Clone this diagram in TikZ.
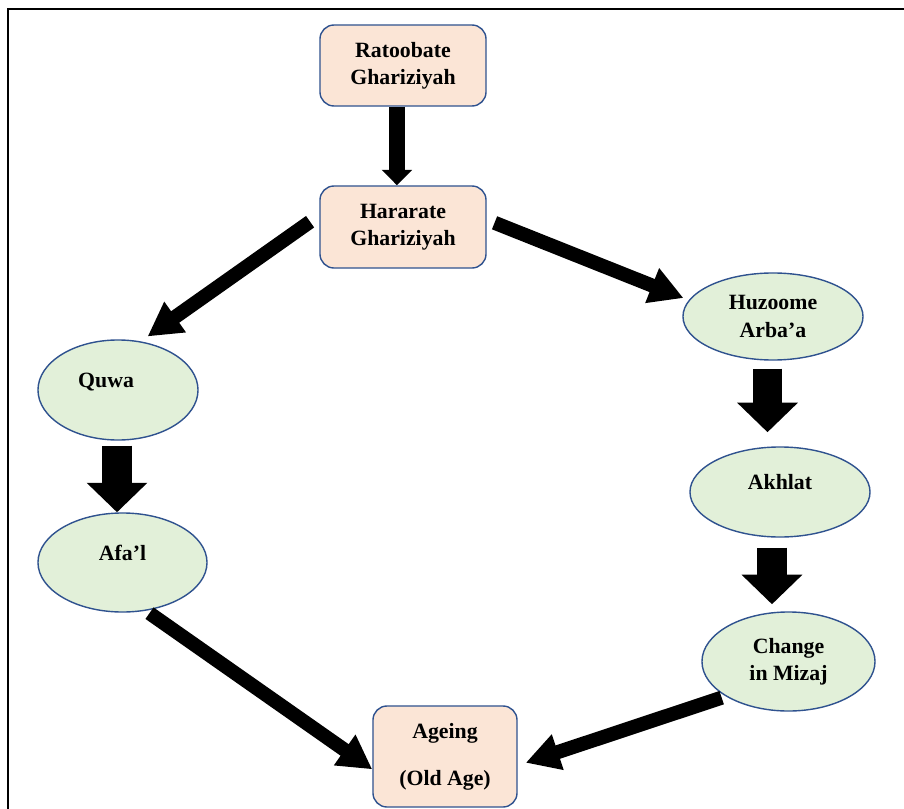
\documentclass[tikz,border=0pt]{standalone}
\usepackage{fontspec}
\setmainfont{Liberation Serif}
\usetikzlibrary{arrows.meta, shapes.geometric}
\definecolor{boxfill}{HTML}{FBE5D6}
\definecolor{ovalfill}{HTML}{E2F0D9}
\definecolor{rim}{HTML}{2F528F}

\begin{document}
\begin{tikzpicture}[x=0.025cm, y=-0.025cm,
    font=\fontsize{15.5}{19.5}\selectfont\bfseries,
    block/.style={draw=rim, fill=boxfill, line width=1pt, rounded corners=10pt,
      align=center, inner sep=0pt},
    oval/.style={ellipse, draw=rim, fill=ovalfill, line width=1pt,
      align=center, inner sep=0pt},
    lift/.style={text height=10.5pt, text depth=14pt},
    slim/.style={line width=12pt, -{Triangle[width=21pt, length=11pt]}},
    fat/.style={line width=21pt, -{Triangle[width=42pt, length=21pt]}},
    diag/.style={line width=10pt, -{Triangle[width=25pt, length=24pt]}}]
  \useasboundingbox (0,0) rectangle (904,809);
  \draw[line width=1.1pt] (8,809) -- (8,9) -- (904,9);

  \node[block, minimum width=4.15cm, minimum height=2.025cm] (rato) at (403,65.5)
    {Ratoobate\\Ghariziyah};
  \node[block, minimum width=4.15cm, minimum height=2.05cm] (harr) at (403,227)
    {Hararate\\Ghariziyah};
  \node[block, minimum width=3.6cm, minimum height=2.525cm] (age) at (445,756.5)
    {Ageing\\[14pt](Old Age)};

  \node[oval, lift, minimum width=4cm, minimum height=2.5cm] (quwa) at (118,390)
    {Quwa\hspace*{17pt}};
  \node[oval, lift, minimum width=4.225cm, minimum height=2.475cm] (afal) at (122.5,562.5)
    {Afa’l};
  \node[oval, minimum width=4.5cm, minimum height=2.175cm] (huz) at (773,316.5)
    {Huzoome\\Arba’a};
  \node[oval, lift, minimum width=4.5cm, minimum height=2.25cm] (akh) at (780,492)
    {Akhlat};
  \node[oval, minimum width=4.325cm, minimum height=2.475cm] (chg) at (788.5,661.5)
    {Change\\in Mizaj};

  \draw[slim] ([xshift=-4.3pt]rato.south) -- ([xshift=-4.3pt]harr.north);
  \draw[fat, shorten <=3.5pt] ([xshift=-0.7pt]quwa.south) -- ([xshift=-0.7pt]quwa.south |- afal.north);
  \draw[fat, shorten <=5.7pt, shorten >=10pt] ([xshift=-3.9pt]huz.south) -- ([xshift=-3.9pt]huz.south |- akh.north);
  \draw[fat, shorten <=7pt, shorten >=5pt] ([xshift=-5.7pt]akh.south) -- ([xshift=-5.7pt]akh.south |- chg.north);

  \draw[diag, shorten <=8pt, shorten >=6pt] (harr.172) -- (quwa.65);
  \draw[diag, shorten <=6pt, shorten >=4pt] (harr.5) -- (huz.169);
  \draw[diag, shorten <=3pt] (afal.-64) -- (age.190);
  \draw[diag, shorten <=3pt, shorten >=6pt] (chg.209) -- (age.-7);
\end{tikzpicture}
\end{document}
